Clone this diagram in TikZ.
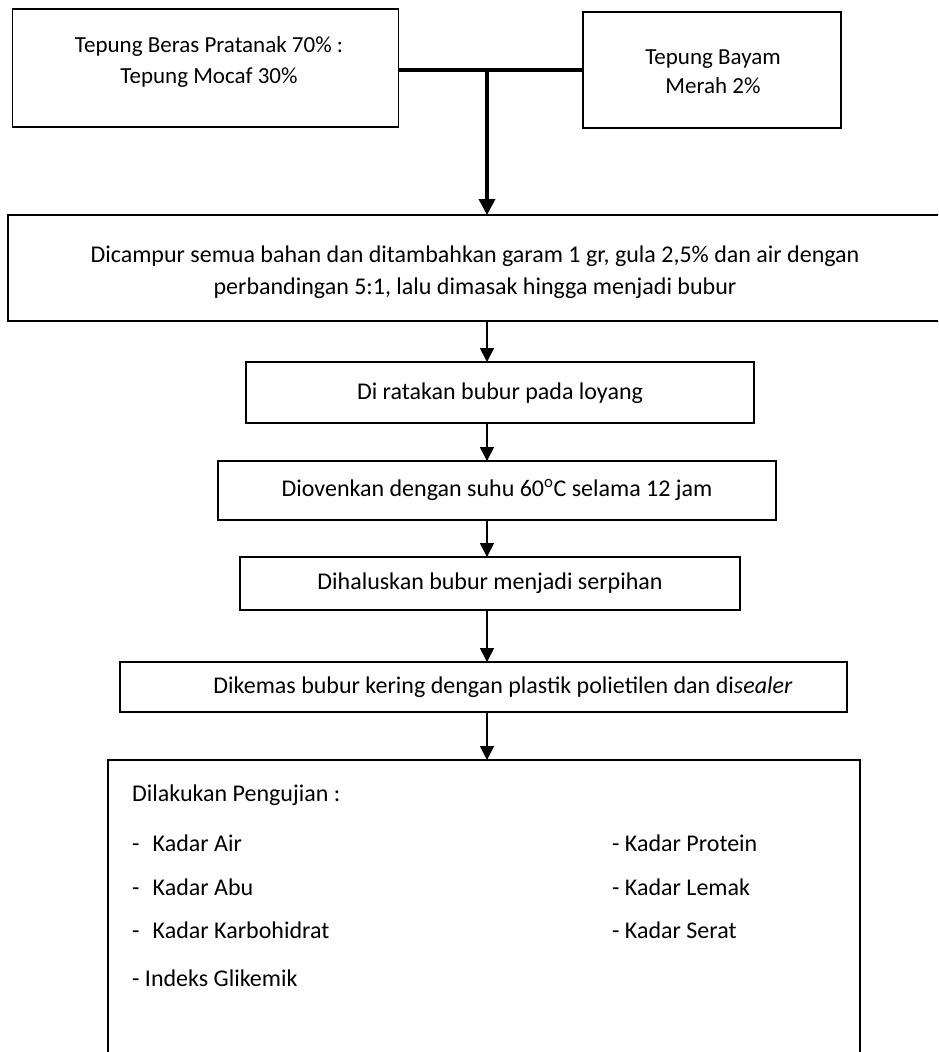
\documentclass[tikz,border=0pt]{standalone}
\usepackage{fontspec}
\setmainfont{Carlito}
\usetikzlibrary{arrows.meta}
\begin{document}
\begin{tikzpicture}[x=1pt,y=-1pt,
  box/.style={draw=black, line width=1.8pt, inner sep=0pt, outer sep=0pt},
  txt/.style={font=\fontsize{24}{30}\selectfont, align=center, inner sep=0pt},
  ltxt/.style={font=\fontsize{24}{30}\selectfont, anchor=west, inner sep=0pt},
  flow/.style={line width=1.8pt, -{Triangle[width=14pt,length=14pt]}},
  mainflow/.style={line width=3.5pt, -{Triangle[width=16pt,length=16pt]}},
  joinline/.style={line width=4pt}]
\useasboundingbox (0,0) rectangle (938,1052);
\clip (0,0) rectangle (938,1052);
\fill[white] (0,0) rectangle (938,1052);
% boxes
\node[box, minimum width=386pt, minimum height=118pt] (b1) at (205.5,68) {};
\node[box, minimum width=258pt, minimum height=116pt] (b2) at (712,70) {};
\node[box, minimum width=942pt, minimum height=106pt] (b3) at (479,268) {};
\node[box, minimum width=508pt, minimum height=61pt] (b4) at (500,392.5) {};
\node[box, minimum width=558pt, minimum height=59pt] (b5) at (497,490.5) {};
\node[box, minimum width=500pt, minimum height=53pt] (b6) at (490,583.5) {};
\node[box, minimum width=727pt, minimum height=50pt] (b7) at (483.5,687) {};
\node[box, minimum width=752pt, minimum height=310pt] (b8) at (484,915) {};
% texts
\node[txt, font=\fontsize{23}{31}\selectfont] (t1) at (209,62) {Tepung Beras Pratanak 70\% :\\Tepung Mocaf 30\%};
\node[txt, font=\fontsize{23}{29}\selectfont] (t2) at (713,72) {Tepung Bayam\\Merah 2\%};
\node[txt, font=\fontsize{24}{32}\selectfont] (t3) at (475,272) {Dicampur semua bahan dan ditambahkan garam 1 gr, gula 2,5\% dan air dengan\\perbandingan 5:1, lalu dimasak hingga menjadi bubur};
\node[txt] (t4) at (500,393) {Di ratakan bubur pada loyang};
\node[txt] (t5) at (497,490) {Diovenkan dengan suhu 60\textsuperscript{o}C selama 12 jam};
\node[txt] (t6) at (490,583) {Dihaluskan bubur menjadi serpihan};
\node[txt] (t7) at (503,687) {Dikemas bubur kering dengan plastik polietilen dan di\textit{sealer}};
\node[ltxt] (h8) at (132,795) {Dilakukan Pengujian :};
\node[ltxt] (l1) at (132,843) {-\hspace{0.55em}Kadar Air};
\node[ltxt] (l2) at (132,887) {-\hspace{0.55em}Kadar Abu};
\node[ltxt] (l3) at (132,930) {-\hspace{0.55em}Kadar Karbohidrat};
\node[ltxt] (l4) at (132,978) {- Indeks Glikemik};
\node[ltxt] (r1) at (612,843) {- Kadar Protein};
\node[ltxt] (r2) at (612,887) {- Kadar Lemak};
\node[ltxt] (r3) at (612,930) {- Kadar Serat};
% connectors
\coordinate (ax) at (487,0);
\coordinate (jn) at (487,70);
\draw[joinline] (b1.east |- jn) -- (b2.west |- jn);
\draw[mainflow] (jn) -- (b3.north -| ax);
\draw[flow] (b3.south -| ax) -- (b4.north -| ax);
\draw[flow] (b4.south -| ax) -- (b5.north -| ax);
\draw[flow] (b5.south -| ax) -- (b6.north -| ax);
\draw[flow] (b6.south -| ax) -- (b7.north -| ax);
\draw[flow] (b7.south -| ax) -- (b8.north -| ax);
\end{tikzpicture}
\end{document}
